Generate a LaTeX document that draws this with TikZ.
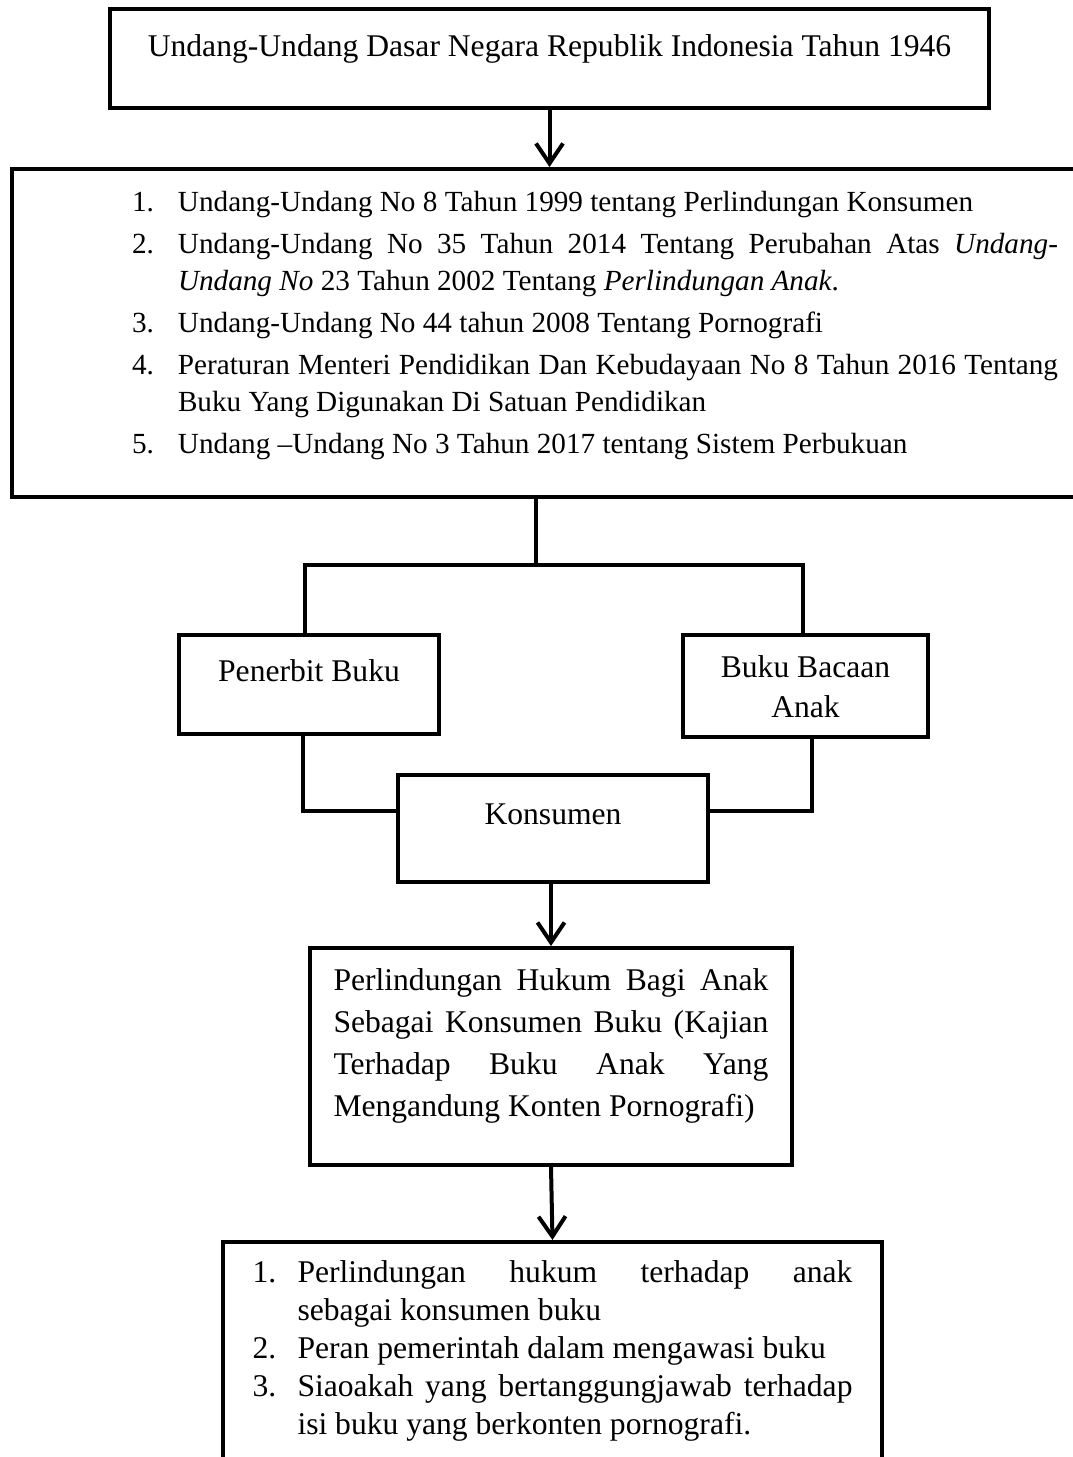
\documentclass[tikz,border=0pt]{standalone}
\usepackage{fontspec}
\setmainfont{Liberation Serif}
\usepackage{tikz}
\usetikzlibrary{positioning}
\usetikzlibrary{arrows.meta}
\pgfdeclarelayer{nodelayer}
\pgfdeclarelayer{edgelayer}
\pgfsetlayers{nodelayer,edgelayer,main}

\newlength{\numwd}
\newcommand{\numitem}[2]{\par\hangindent=\numwd\hangafter=1\noindent\makebox[\numwd][l]{#1}#2\par}

\tikzset{
    box/.style={draw, rectangle, line width=4pt, inner sep=0pt, anchor=base,
        font=\fontsize{31.6pt}{40pt}\selectfont},
    link/.style={line width=4pt},
    arr/.style={link, -{Straight Barb[length=20pt,width=27pt]}}
}

\begin{document}
\begin{tikzpicture}[x=1pt, y=-1pt]
        \useasboundingbox (0,0) rectangle (1073,1457);
        \begin{pgfonlayer}{nodelayer}
            \node [box, minimum width=879pt, text height=47pt, text depth=52pt] (0) at (549.5, 56) {Undang-Undang Dasar Negara Republik Indonesia Tahun 1946};
            \node [box, minimum width=1166pt, text height=42pt, text depth=286pt] (1) at (595, 211) {\parbox[t]{926pt}{%
                \fontsize{29.2pt}{37pt}\selectfont\setlength{\numwd}{46pt}\parskip=5pt\tolerance=10000
                \numitem{1.}{Undang-Undang No 8 Tahun 1999 tentang Perlindungan Konsumen}
                \numitem{2.}{Undang-Undang No 35 Tahun 2014 Tentang Perubahan Atas \textit{Undang-}\linebreak\textit{Undang No} 23 Tahun 2002 Tentang \textit{Perlindungan Anak}.}
                \numitem{3.}{Undang-Undang No 44 tahun 2008 Tentang Pornografi}
                \numitem{4.}{Peraturan Menteri Pendidikan Dan Kebudayaan No 8 Tahun 2016 Tentang\linebreak Buku Yang Digunakan Di Satuan Pendidikan}
                \numitem{5.}{Undang –Undang No 3 Tahun 2017 tentang Sistem Perbukuan}}};
            \node [box, minimum width=260pt, text height=46pt, text depth=53pt] (2) at (309, 681) {Penerbit Buku};
            \node [box, minimum width=245pt, text height=42pt, text depth=60pt] (3) at (805.5, 677) {\parbox[t]{220pt}{\centering Buku Bacaan\\Anak}};
            \node [box, minimum width=310pt, text height=49pt, text depth=58pt] (4) at (553, 824) {Konsumen};
            \node [box, minimum width=482pt, text height=42pt, text depth=175pt] (5) at (551, 990) {\parbox[t]{435pt}{%
                \fontsize{31.6pt}{42pt}\selectfont\tolerance=10000
                Perlindungan Hukum Bagi Anak\linebreak Sebagai Konsumen Buku (Kajian\linebreak Terhadap Buku Anak Yang\linebreak Mengandung Konten Pornografi)}};
            \node [box, minimum width=659pt, text height=40pt, text depth=240pt] (6) at (552.5, 1282) {\parbox[t]{600pt}{%
                \fontsize{31.6pt}{38pt}\selectfont\setlength{\numwd}{45pt}\tolerance=10000
                \numitem{1.}{Perlindungan hukum terhadap anak\linebreak sebagai konsumen buku}
                \numitem{2.}{Peran pemerintah dalam mengawasi buku}
                \numitem{3.}{Siaoakah yang bertanggungjawab terhadap\linebreak isi buku yang berkonten pornografi.}}};
            \coordinate (7) at (536, 565);
            \coordinate (8) at (305, 565);
            \coordinate (9) at (803, 565);
            \coordinate (10) at (303, 811);
            \coordinate (11) at (812, 811);
        \end{pgfonlayer}
        \begin{pgfonlayer}{edgelayer}
            \draw [arr] (0.south) to (0.south |- 1.north);
            \draw [link] (1.south -| 7) to (7);
            \draw [link] (2.north -| 8) to (8) to (9) to (3.north -| 9);
            \draw [link] (2.south -| 10) to (10) to (4.west |- 10);
            \draw [link] (3.south -| 11) to (11) to (4.east |- 11);
            \draw [arr] (4.south -| 5.north) to (5.north);
            \draw [arr] (5.south) to (6.north);
        \end{pgfonlayer}
    \end{tikzpicture}
\end{document}
